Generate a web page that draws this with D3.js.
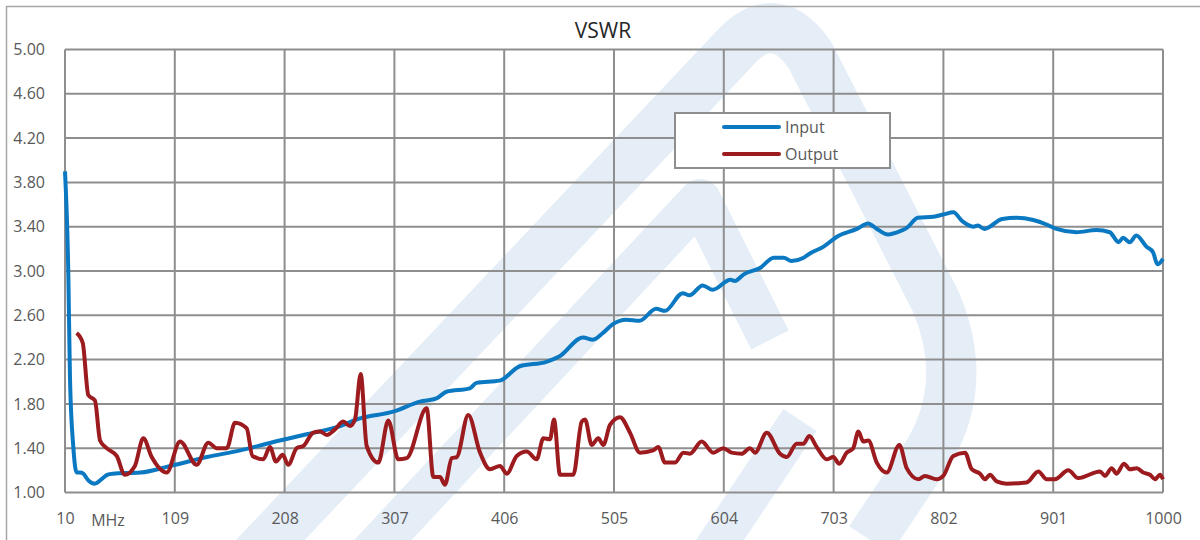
<!DOCTYPE html>
<html>
<head>
<meta charset="utf-8">
<script src="https://cdn.jsdelivr.net/npm/d3@7"></script>
<style>
  body { margin: 0; background: #fff; }
  svg { display: block; }
  text { font-family: "Open Sans", "DejaVu Sans", sans-serif; }
</style>
</head>
<body>
<div id="chart"></div>
<script>
// chart data (frequency in MHz, VSWR)
var xTicks = [10, 109, 208, 307, 406, 505, 604, 703, 802, 901, 1000];
var yTicks = [1.00, 1.40, 1.80, 2.20, 2.60, 3.00, 3.40, 3.80, 4.20, 4.60, 5.00];
var seriesNames = ["Input", "Output"];

var inputFreq = [10, 13, 14.5, 17.5, 20.5, 23.5, 26.5, 31, 37, 43, 48, 53, 78, 107, 138, 168, 198, 228, 255,
  276, 306, 330, 345, 354, 375, 381, 402, 420, 444, 456, 477, 486, 495, 504, 516, 528, 543, 551, 567, 573,
  585, 594, 610, 614, 622, 637, 649, 658, 665, 676, 682, 694, 706, 724, 734, 742, 752, 763, 769, 779, 793,
  802, 811, 819, 829, 833, 839, 855, 868, 883, 895, 904, 922, 940, 952, 960, 964, 970, 976, 985, 991, 995, 1000];
var inputVswr = [3.90, 2.97, 2.03, 1.41, 1.18, 1.18, 1.17, 1.11, 1.08, 1.12, 1.16, 1.17, 1.18, 1.245, 1.32, 1.38, 1.456, 1.526, 1.59,
  1.67, 1.73, 1.82, 1.85, 1.91, 1.94, 1.99, 2.01, 2.14, 2.18, 2.23, 2.40, 2.38, 2.44, 2.52, 2.56, 2.55, 2.66, 2.64, 2.80, 2.78,
  2.87, 2.83, 2.92, 2.91, 2.97, 3.03, 3.12, 3.12, 3.09, 3.12, 3.16, 3.22, 3.31, 3.38, 3.43, 3.38, 3.33, 3.36, 3.39, 3.48, 3.49,
  3.51, 3.53, 3.45, 3.40, 3.41, 3.38, 3.47, 3.48, 3.46, 3.42, 3.38, 3.35, 3.37, 3.35, 3.26, 3.30, 3.26, 3.32, 3.22, 3.17, 3.06, 3.11];

var outputFreq = [20.5, 26, 31, 37, 41.6, 47.6, 56.6, 64, 73, 80.6, 88.2, 101.7, 113.7, 128.7, 139.2, 146.8, 155.8, 163.3,
  173.8, 179, 188.8, 194.8, 200.2, 206.3, 211.3, 218.9, 224.9, 233.9, 240, 246, 253.4, 260.9, 267, 271.5, 276.6, 282,
  292.5, 301.5, 310.5, 318.1, 336.1, 342.1, 348.1, 352.6, 358.7, 363.2, 373.6, 384.2, 393.2, 402.2, 408.3, 417.3, 426.3,
  435.3, 441.3, 447.3, 450.9, 456.3, 468.3, 475.9, 478.9, 484.9, 490.8, 495.4, 501.4, 510.4, 519.4, 528.4, 540.4, 544.9,
  551, 560, 567.5, 573.5, 584, 594.5, 603.5, 611, 620, 627.6, 632.1, 642.7, 654.7, 660.7, 669.7, 675.7, 681.1, 687.8,
  696.8, 702.7, 708.1, 714.8, 720.7, 725.3, 729.8, 734.3, 741.9, 750.9, 762.3, 768.9, 779.4, 785.4, 795.9, 801.9, 810.9,
  821.5, 827.5, 835, 839.5, 844, 850, 859, 877, 887.6, 895.1, 902.6, 914.6, 923.6, 943.2, 947.7, 953.7, 958.2, 964.8,
  970.2, 976.3, 982.2, 988.3, 992.8, 997.3, 1000];
var outputVswr = [2.44, 2.35, 1.88, 1.83, 1.47, 1.40, 1.33, 1.16, 1.24, 1.49, 1.32, 1.18, 1.46, 1.25, 1.45, 1.40, 1.40, 1.63,
  1.58, 1.33, 1.30, 1.41, 1.28, 1.34, 1.25, 1.40, 1.42, 1.54, 1.55, 1.52, 1.57, 1.64, 1.60, 1.66, 2.07, 1.42,
  1.27, 1.65, 1.30, 1.31, 1.76, 1.14, 1.14, 1.07, 1.31, 1.32, 1.70, 1.36, 1.21, 1.24, 1.17, 1.33, 1.37,
  1.30, 1.49, 1.48, 1.66, 1.16, 1.16, 1.64, 1.66, 1.43, 1.49, 1.43, 1.61, 1.68, 1.54, 1.36, 1.38, 1.41,
  1.27, 1.27, 1.36, 1.35, 1.46, 1.36, 1.40, 1.36, 1.35, 1.40, 1.36, 1.54, 1.35, 1.32, 1.44, 1.44, 1.51, 1.41,
  1.30, 1.32, 1.26, 1.36, 1.40, 1.55, 1.46, 1.47, 1.27, 1.18, 1.43, 1.22, 1.12, 1.15, 1.12, 1.15, 1.33,
  1.36, 1.21, 1.17, 1.12, 1.16, 1.10, 1.08, 1.09, 1.19, 1.12, 1.12, 1.20, 1.13, 1.19, 1.15, 1.22, 1.17, 1.26,
  1.21, 1.22, 1.18, 1.16, 1.12, 1.16, 1.12];

var colors = ["#0b78c2", "#9c1b1f"];
var gridColor = "#8e8e8e";
var textColor = "#595959";

var width = 1200, height = 540;
var margin = { top: 49.5, right: 37, bottom: 47.5, left: 65 };

var svg = d3.select("#chart").append("svg")
  .attr("width", width)
  .attr("height", height);

// watermark logo in the background
var mark = svg.append("g")
  .attr("fill", "none")
  .attr("stroke", "#e5eef7")
  .attr("stroke-linejoin", "round");
mark.append("path")
  .attr("stroke-width", 50)
  .attr("d", "M242,570 L735,48 Q775,5 810,55 L935,300 Q970,380 930,450 L870,540");
mark.append("path")
  .attr("stroke-width", 42)
  .attr("d", "M355,570 L700,200 L770,340");
mark.append("path")
  .attr("stroke-width", 40)
  .attr("d", "M700,570 L800,420");

// outer chart border
svg.append("rect")
  .attr("x", 6.5).attr("y", 6.5)
  .attr("width", 1300).attr("height", 600)
  .attr("fill", "none")
  .attr("stroke", "#a6a6a6")
  .attr("stroke-width", 1.5);

var x = d3.scaleLinear()
  .domain([10, 1000])
  .range([margin.left, width - margin.right]);
var y = d3.scaleLinear()
  .domain([1, 5])
  .range([height - margin.bottom, margin.top]);

// grid
svg.append("g")
  .selectAll("line")
  .data(yTicks)
  .enter().append("line")
  .attr("x1", x(10)).attr("x2", x(1000))
  .attr("y1", function(d) { return y(d); })
  .attr("y2", function(d) { return y(d); })
  .attr("stroke", gridColor)
  .attr("stroke-width", 2);
svg.append("g")
  .selectAll("line")
  .data(xTicks)
  .enter().append("line")
  .attr("y1", y(1)).attr("y2", y(5))
  .attr("x1", function(d) { return x(d); })
  .attr("x2", function(d) { return x(d); })
  .attr("stroke", gridColor)
  .attr("stroke-width", 2);

// axes labels
var yAxis = d3.axisLeft(y)
  .tickValues(yTicks)
  .tickSize(0)
  .tickPadding(20)
  .tickFormat(d3.format(".2f"));
svg.append("g")
  .attr("transform", "translate(" + margin.left + ",0)")
  .call(yAxis)
  .call(function(g) { g.select(".domain").remove(); })
  .selectAll("text")
  .attr("fill", textColor)
  .attr("font-size", "16px")
  .attr("font-family", "'Open Sans', sans-serif");

var xAxis = d3.axisBottom(x)
  .tickValues(xTicks)
  .tickSize(0)
  .tickPadding(20)
  .tickFormat(d3.format("d"));
svg.append("g")
  .attr("transform", "translate(0," + y(1) + ")")
  .call(xAxis)
  .call(function(g) { g.select(".domain").remove(); })
  .selectAll("text")
  .attr("fill", textColor)
  .attr("font-size", "16px")
  .attr("font-family", "'Open Sans', sans-serif");

svg.append("text")
  .attr("x", x(10) + 43)
  .attr("y", 526)
  .attr("text-anchor", "middle")
  .attr("fill", textColor)
  .attr("font-size", "16px")
  .text("MHz");

// title
svg.append("text")
  .attr("x", 603)
  .attr("y", 38)
  .attr("text-anchor", "middle")
  .attr("fill", "#262626")
  .attr("font-size", "21px")
  .text("VSWR");

// lines
var line = d3.line()
  .x(function(d) { return x(d[0]); })
  .y(function(d) { return y(d[1]); })
  .curve(d3.curveMonotoneX);

var inputData = inputFreq.map(function(f, i) { return [f, inputVswr[i]]; });
var outputData = outputFreq.map(function(f, i) { return [f, outputVswr[i]]; });

svg.append("path")
  .datum(inputData)
  .attr("d", line)
  .attr("fill", "none")
  .attr("stroke", colors[0])
  .attr("stroke-width", 4)
  .attr("stroke-linejoin", "round");
svg.append("path")
  .datum(outputData)
  .attr("d", line)
  .attr("fill", "none")
  .attr("stroke", colors[1])
  .attr("stroke-width", 4)
  .attr("stroke-linejoin", "round");

// legend
var legend = svg.append("g")
  .attr("transform", "translate(675,113)");
legend.append("rect")
  .attr("width", 215).attr("height", 55)
  .attr("fill", "#fff")
  .attr("stroke", gridColor)
  .attr("stroke-width", 2);
var items = legend.selectAll("g.item")
  .data(seriesNames)
  .enter().append("g")
  .attr("class", "item")
  .attr("transform", function(d, i) { return "translate(0," + (14 + i * 27) + ")"; });
items.append("line")
  .attr("x1", 49).attr("x2", 104)
  .attr("stroke", function(d, i) { return colors[i]; })
  .attr("stroke-width", 4)
  .attr("stroke-linecap", "round");
items.append("text")
  .attr("x", 110)
  .attr("y", 6)
  .attr("fill", textColor)
  .attr("font-size", "16px")
  .text(function(d) { return d; });
</script>
</body>
</html>
